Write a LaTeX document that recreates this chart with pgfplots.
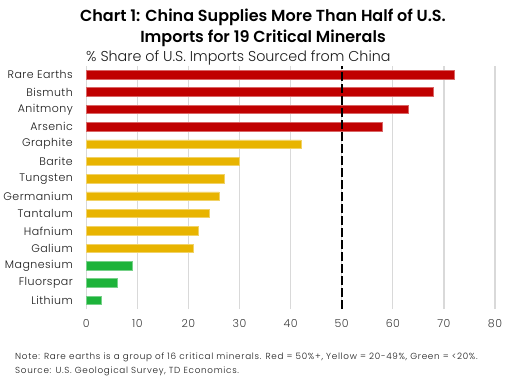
\documentclass[border=0pt]{standalone}
\usepackage{pgfplots}
\pgfplotsset{compat=1.18}
\usepackage{fontspec}
\setmainfont{Poppins}[UprightFont=* Light, BoldFont=* SemiBold]
\definecolor{cred}{HTML}{C00000}
\definecolor{cyel}{HTML}{E8B400}
\definecolor{cgrn}{HTML}{1DB33A}
\definecolor{cgrid}{HTML}{D9D9D9}
\definecolor{ctxt}{HTML}{1A1A1A}
\begin{document}
\begin{tikzpicture}[x=1pt,y=1pt]
\path[use as bounding box] (0,0) rectangle (518,386);
\node[font=\fontsize{16}{18}\selectfont\bfseries, text=black] at (263,369) {Chart 1: China Supplies More Than Half of U.S.};
\node[font=\fontsize{16}{18}\selectfont\bfseries, text=black] at (263,348) {Imports for 19 Critical Minerals};
\node[font=\fontsize{14.3}{16}\selectfont, text=ctxt, anchor=west, inner sep=0pt] at (86,328.5) {\% Share of U.S. Imports Sourced from China};
\node[font=\fontsize{8.8}{10}\selectfont\addfontfeature{LetterSpace=8}, text=ctxt, anchor=west, inner sep=0pt] at (15,29) {Note: Rare earths is a group of 16 critical minerals. Red = 50\%+, Yellow = 20-49\%, Green = <20\%.};
\node[font=\fontsize{8.8}{10}\selectfont\addfontfeature{LetterSpace=8}, text=ctxt, anchor=west, inner sep=0pt] at (15,15) {Source: U.S. Geological Survey, TD Economics.};
\begin{axis}[
  at={(86.3pt,77pt)}, anchor=south west,
  width=408.7pt, height=243pt, scale only axis,
  xmin=0, xmax=80, ymin=-0.5, ymax=13.5,
  xtick={0,10,...,80},
  ytick={0,...,13},
  yticklabels={Lithium,Fluorspar,Magnesium,Galium,Hafnium,Tantalum,Germanium,Tungsten,Barite,Graphite,Arsenic,Anitmony,Bismuth,Rare Earths},
  xmajorgrids, grid style={cgrid, line width=1.3pt},
  axis line style={draw=none},
  tick style={draw=none},
  /pgf/number format/assume math mode=true,
  ticklabel style={font=\fontsize{11}{13}\selectfont\addfontfeature{LetterSpace=4}, text=ctxt},
  xticklabel style={yshift=-7pt, text=ctxt!85},
  yticklabel style={xshift=-10pt},
  bar shift=0pt,
  bar width=8.5pt,
  clip=false,
]
\addplot[xbar, fill=cred, draw=cred!60!white, line width=0.6pt] coordinates {(72,13) (68,12) (63,11) (58,10)};
\addplot[xbar, fill=cyel, draw=cyel!60!white, line width=0.6pt] coordinates {(42,9) (30,8) (27,7) (26,6) (24,5) (22,4) (21,3)};
\addplot[xbar, fill=cgrn, draw=cgrn!60!white, line width=0.6pt] coordinates {(9,2) (6,1) (3,0)};
\addplot[sharp plot, black, line width=1.8pt, dash pattern=on 9pt off 3pt, mark=none] coordinates {(50,-0.5) (50,13.5)};
\end{axis}
\end{tikzpicture}
\end{document}
